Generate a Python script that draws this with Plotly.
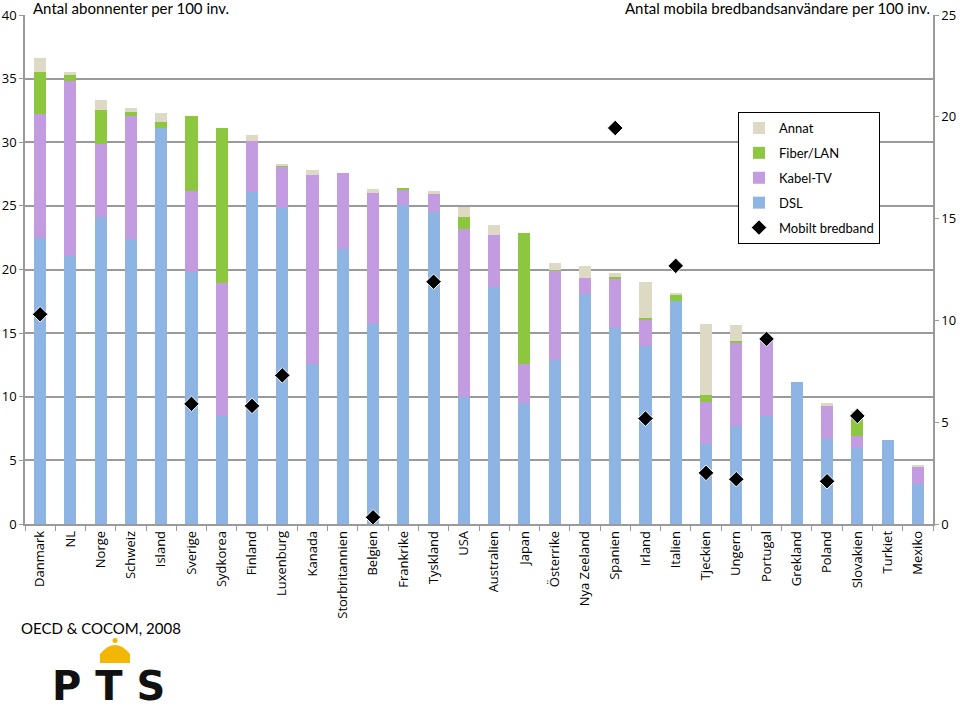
import plotly.graph_objects as go

countries = ["Danmark", "NL", "Norge", "Schweiz", "Island", "Sverige", "Sydkorea", "Finland",
             "Luxenburg", "Kanada", "Storbritannien", "Belgien", "Frankrike", "Tyskland", "USA",
             "Australien", "Japan", "Österrike", "Nya Zeeland", "Spanien", "Irland", "Italien",
             "Tjeckien", "Ungern", "Portugal", "Grekland", "Poland", "Slovakien", "Turkiet", "Mexiko"]

dsl = [22.5, 21.1, 24.1, 22.4, 31.1, 19.8, 8.45, 26.1, 24.8, 12.6, 21.6, 15.7, 25.1, 24.5, 10.0,
       18.6, 9.5, 12.85, 18.1, 15.4, 14.0, 17.5, 6.25, 7.7, 8.5, 11.15, 6.7, 6.0, 6.6, 3.15]
kabel = [9.75, 13.7, 5.8, 9.7, 0.0, 6.35, 10.5, 4.0, 3.3, 14.85, 5.95, 10.3, 1.2, 1.5, 13.2,
         4.1, 3.1, 7.05, 1.2, 3.9, 2.0, 0.0, 3.35, 6.55, 6.0, 0.0, 2.65, 0.9, 0.0, 1.35]
fiber = [3.3, 0.5, 2.6, 0.3, 0.5, 5.95, 12.2, 0.0, 0.1, 0.0, 0.0, 0.0, 0.1, 0.0, 0.9,
         0.0, 10.3, 0.05, 0.0, 0.15, 0.2, 0.5, 0.55, 0.1, 0.0, 0.0, 0.0, 1.6, 0.0, 0.0]
annat = [1.1, 0.2, 0.8, 0.3, 0.7, 0.0, 0.0, 0.5, 0.1, 0.4, 0.0, 0.3, 0.0, 0.15, 0.8,
         0.8, 0.0, 0.55, 1.0, 0.3, 2.8, 0.15, 5.55, 1.3, 0.0, 0.0, 0.15, 0.4, 0.0, 0.15]
mobil = [10.3, None, None, None, None, 5.9, None, 5.8, 7.3, None, None, 0.33, None, 11.9, None,
         None, None, None, None, 19.45, 5.18, 12.68, 2.51, 2.2, 9.09, None, 2.1, 5.31, None, None]

left_ticks = [0, 5, 10, 15, 20, 25, 30, 35, 40]
right_ticks = [0, 5, 10, 15, 20, 25]

C_DSL = "#8DB4E2"
C_KAB = "#C39BE0"
C_FIB = "#8DC63F"
C_ANN = "#DDD9C4"
GRID = "#9A9A9A"
FONT = "Open Sans"

# plot-area geometry in pixels (used for placing decorations only)
L, R, T, B = 25, 27, 15, 188
PW, PH = 960 - L - R, 712 - T - B


def px(x):
    return (x - L) / PW


def py(y):
    return (712 - B - y) / PH


fig = go.Figure()
for name, vals, col, rank in [("DSL", dsl, C_DSL, 4), ("Kabel-TV", kabel, C_KAB, 3),
                              ("Fiber/LAN", fiber, C_FIB, 2), ("Annat", annat, C_ANN, 1)]:
    fig.add_trace(go.Bar(x=countries, y=vals, name=name, marker=dict(color=col, line=dict(width=0)),
                         width=0.4, legendrank=rank, legendgroup=name))

fig.add_trace(go.Scatter(x=countries, y=mobil, name="Mobilt bredband", mode="markers", yaxis="y2",
                         marker=dict(symbol="diamond", size=12, color="black",
                                     line=dict(color="white", width=1)),
                         legendrank=5, legendgroup="mob"))

fig.update_layout(
    barmode="stack",
    width=960, height=712,
    margin=dict(l=L, r=R, t=T, b=B, autoexpand=False),
    paper_bgcolor="white", plot_bgcolor="white",
    font=dict(family=FONT, size=13, color="black"),
    xaxis=dict(type="category", range=[-0.5, len(countries) - 0.5], autorange=False,
               showline=True, linecolor=GRID, linewidth=1.5, ticks="outside",
               tickson="boundaries", ticklen=5, tickcolor=GRID, tickangle=-90, automargin=False,
               tickfont=dict(family=FONT, size=13), showgrid=False),
    yaxis=dict(range=[0, 40], tickvals=left_ticks, showgrid=True, gridcolor=GRID, gridwidth=1.5,
               showline=True, linecolor=GRID, linewidth=1.5, ticks="outside", ticklen=4,
               automargin=False,
               tickcolor=GRID, tickfont=dict(family=FONT, size=13), zeroline=False),
    yaxis2=dict(range=[0, 25], tickvals=right_ticks, overlaying="y", side="right", showgrid=False,
                showline=True, linecolor=GRID, linewidth=1.5, ticks="outside", ticklen=4,
                automargin=False,
                tickcolor=GRID, tickfont=dict(family=FONT, size=13), zeroline=False),
    legend=dict(x=px(738), y=py(112), xanchor="left", yanchor="top", bordercolor="black",
                borderwidth=1, bgcolor="white", font=dict(family="Lato", size=13), tracegroupgap=5,
                traceorder="grouped", itemwidth=30),
    showlegend=True,
)

fig.add_annotation(text="Antal abonnenter per 100 inv.", xref="paper", yref="paper", x=px(31), y=1.0,
                   xanchor="left", yanchor="bottom", showarrow=False,
                   font=dict(family="Lato", size=15), yshift=-4)
fig.add_annotation(text="Antal mobila bredbandsanvändare per 100 inv.", xref="paper", yref="paper",
                   x=px(932), y=1.0, xanchor="right", yanchor="bottom", showarrow=False,
                   font=dict(family="Lato", size=15), yshift=-4)
fig.add_annotation(text="OECD & COCOM, 2008", xref="paper", yref="paper", x=px(19), y=py(628),
                   xanchor="left", yanchor="middle", showarrow=False,
                   font=dict(family="Lato", size=15))
# PTS logo text
fig.add_annotation(text="<b>P T S</b>", xref="paper", yref="paper", x=px(50), y=py(686),
                   xanchor="left", yanchor="middle", showarrow=False,
                   font=dict(family="DejaVu Sans", size=40, color="#111111"))
# crown decoration
fig.add_shape(type="path", xref="paper", yref="paper",
              path=f"M {px(100)} {py(663)} L {px(100)} {py(654)} Q {px(115)} {py(636)} {px(130)} {py(654)} "
                   f"L {px(130)} {py(663)} Z",
              fillcolor="#F2B705", line=dict(width=0))
fig.add_shape(type="circle", xref="paper", yref="paper",
              x0=px(112.5), x1=px(117.5), y0=py(643), y1=py(638),
              fillcolor="#F2B705", line=dict(width=0))

fig.write_html("out.html")
